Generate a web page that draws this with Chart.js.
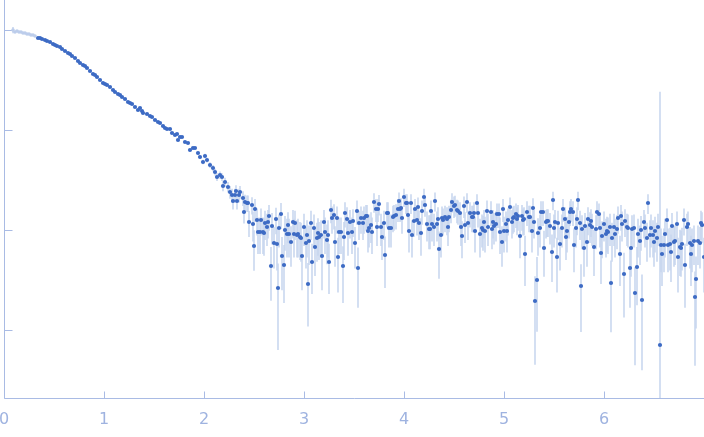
<!DOCTYPE html>
<html>
<head>
<meta charset="utf-8">
<script src="https://cdn.jsdelivr.net/npm/chart.js@4.4.1/dist/chart.umd.min.js"></script>
<style>
  html, body { margin: 0; padding: 0; background: #fff; }
  #wrap { width: 704px; height: 437px; }
</style>
</head>
<body>
<div id="wrap"><canvas id="myChart"></canvas></div>
<script>
// tick positions (s in 1/nm, log10 intensity decades)
const xTicks = [0, 1, 2, 3, 4, 5, 6]
const yDecades = [0, -1, -2, -3]

// points excluded from the fit (light)
const qExcl = [0.09, 0.11, 0.13, 0.15, 0.17, 0.19, 0.21, 0.23, 0.25, 0.27, 0.29, 0.31]
const logIExcl = [0.00, -0.02, -0.01, -0.02, -0.02, -0.03, -0.03, -0.04, -0.04, -0.05, -0.05, -0.06]
const errExcl = [0.07, 0.01, 0.01, 0.01, 0.01, 0.01, 0.01, 0.01, 0.01, 0.01, 0.01, 0.01]

// experimental points: s, log10 I, sigma(I)
const q = [
  0.34, 0.36, 0.38, 0.41, 0.43, 0.46, 0.49, 0.51, 0.53, 0.56,
  0.58, 0.61, 0.64, 0.66, 0.68, 0.71, 0.74, 0.76, 0.79, 0.81,
  0.83, 0.86, 0.89, 0.91, 0.93, 0.96, 0.99, 1.01, 1.03, 1.06,
  1.09, 1.11, 1.14, 1.16, 1.18, 1.21, 1.24, 1.26, 1.28, 1.31,
  1.34, 1.36, 1.38, 1.39, 1.43, 1.46, 1.48, 1.51, 1.54, 1.56,
  1.59, 1.61, 1.63, 1.66, 1.68, 1.71, 1.73, 1.74, 1.76, 1.78,
  1.81, 1.84, 1.86, 1.89, 1.91, 1.94,
  1.96, 1.99, 2.01, 2.03, 2.06, 2.09, 2.11, 2.13, 2.16, 2.18, 2.19, 2.21, 2.24,
  2.26, 2.28, 2.29, 2.31, 2.32, 2.33, 2.35, 2.36, 2.39, 2.40, 2.41, 2.43, 2.44, 2.45, 2.48,
  2.49, 2.50, 2.51, 2.53, 2.54, 2.56, 2.57, 2.59, 2.60, 2.61,
  2.63, 2.64, 2.65, 2.67, 2.68, 2.70, 2.72, 2.73, 2.74, 2.75,
  2.77, 2.78, 2.80, 2.81, 2.83, 2.84, 2.85, 2.87, 2.89, 2.90,
  2.91, 2.93, 2.94, 2.96, 2.97, 2.98, 3.00, 3.02, 3.03, 3.04,
  3.05, 3.07, 3.08, 3.10, 3.11, 3.13, 3.14, 3.15, 3.17, 3.18,
  3.20, 3.21, 3.23, 3.24, 3.25, 3.27, 3.28, 3.30, 3.31, 3.33,
  3.34, 3.35, 3.37, 3.39, 3.40, 3.41, 3.43, 3.44, 3.46, 3.48,
  3.49, 3.51, 3.53, 3.54, 3.55, 3.57, 3.59, 3.60, 3.62, 3.63,
  3.64, 3.65, 3.67, 3.68, 3.70, 3.72, 3.73, 3.74, 3.75, 3.77,
  3.78, 3.80, 3.81, 3.83, 3.84, 3.85, 3.87, 3.89, 3.90, 3.92,
  3.94, 3.95, 3.96, 3.97, 3.98, 4.00, 4.02, 4.03, 4.04, 4.05,
  4.07, 4.08, 4.10, 4.11, 4.13, 4.14, 4.15, 4.17, 4.18, 4.20,
  4.21, 4.23, 4.25, 4.26, 4.27, 4.28, 4.30, 4.31, 4.33, 4.34,
  4.35, 4.37, 4.38, 4.39, 4.41, 4.43, 4.44, 4.45, 4.47, 4.48,
  4.50, 4.51, 4.53, 4.54, 4.56, 4.57, 4.58, 4.60, 4.61, 4.63,
  4.64, 4.66, 4.68, 4.69, 4.70, 4.71, 4.73, 4.74, 4.76, 4.78,
  4.79, 4.80, 4.81, 4.83, 4.84, 4.87, 4.88, 4.89, 4.90, 4.92,
  4.93, 4.95, 4.96, 4.98, 4.99, 5.00, 5.02, 5.03, 5.04, 5.06,
  5.08, 5.09, 5.10, 5.12, 5.13, 5.14, 5.16, 5.18, 5.19, 5.20,
  5.21, 5.23, 5.25, 5.26, 5.28, 5.29, 5.30, 5.31, 5.33, 5.34,
  5.36, 5.37, 5.39, 5.40, 5.42, 5.43, 5.44, 5.46, 5.48, 5.49,
  5.50, 5.51, 5.53, 5.54, 5.56, 5.58, 5.59, 5.61, 5.62, 5.63,
  5.65, 5.66, 5.67, 5.69, 5.70, 5.72, 5.73, 5.74, 5.76, 5.77,
  5.78, 5.80, 5.81, 5.83, 5.84, 5.86, 5.87, 5.88, 5.90, 5.92,
  5.93, 5.95, 5.96, 5.97, 5.98, 6.00, 6.02, 6.03, 6.04, 6.06,
  6.07, 6.08, 6.10, 6.11, 6.13, 6.14, 6.16, 6.17, 6.18, 6.20,
  6.21, 6.23, 6.24, 6.26, 6.27, 6.28, 6.30, 6.31, 6.33, 6.34,
  6.36, 6.37, 6.38, 6.40, 6.41, 6.43, 6.44, 6.46, 6.47, 6.49,
  6.50, 6.51, 6.53, 6.54, 6.56, 6.57, 6.58, 6.60, 6.61, 6.63,
  6.64, 6.66, 6.67, 6.68, 6.70, 6.71, 6.73, 6.74, 6.76, 6.77,
  6.78, 6.80, 6.81, 6.83, 6.84, 6.86, 6.87, 6.88, 6.90, 6.91,
  6.92, 6.94, 6.96, 6.97, 6.98, 7.00
]
const logI = [
  -0.08, -0.08, -0.09, -0.10, -0.11, -0.12, -0.14, -0.15, -0.16, -0.17,
  -0.19, -0.21, -0.23, -0.24, -0.26, -0.28, -0.31, -0.33, -0.35, -0.36,
  -0.38, -0.41, -0.44, -0.45, -0.47, -0.50, -0.53, -0.54, -0.55, -0.57,
  -0.60, -0.62, -0.64, -0.65, -0.67, -0.69, -0.72, -0.73, -0.74, -0.77,
  -0.80, -0.78, -0.81, -0.83, -0.84, -0.86, -0.87, -0.90, -0.92, -0.93,
  -0.96, -0.98, -0.99, -0.99, -1.03, -1.05, -1.04, -1.10, -1.07, -1.07,
  -1.12, -1.13, -1.20, -1.18, -1.18, -1.23,
  -1.27, -1.32, -1.26, -1.30, -1.35, -1.38, -1.42, -1.47, -1.45, -1.47, -1.56, -1.52, -1.57,
  -1.62, -1.65, -1.71, -1.65, -1.61, -1.71, -1.65, -1.62, -1.68, -1.82, -1.72, -1.73, -1.73, -1.92, -1.75,
  -1.94, -2.16, -1.79, -1.90, -2.02, -2.02, -1.90, -2.02, -2.03, -1.93,
  -1.97, -1.92, -1.86, -2.36, -1.96, -2.13, -1.89, -2.14, -2.58, -1.98,
  -1.84, -2.26, -2.35, -2.00, -2.04, -1.95, -2.04, -2.12, -1.92, -2.04,
  -1.93, -2.05, -2.04, -2.07, -2.08, -2.26, -1.97, -2.13, -2.05, -2.54,
  -2.11, -1.93, -2.32, -1.98, -2.17, -2.08, -2.03, -2.07, -2.05, -2.26,
  -1.92, -2.02, -2.10, -2.05, -2.32, -1.80, -1.88, -1.85, -2.12, -1.88,
  -2.27, -2.02, -2.02, -2.36, -2.07, -1.83, -1.89, -2.03, -1.92, -2.02,
  -1.91, -2.13, -1.81, -2.38, -1.93, -1.88, -1.93, -1.88, -1.86, -1.86,
  -2.01, -1.98, -1.95, -2.02, -1.72, -1.79, -1.97, -1.79, -1.74, -1.97,
  -2.07, -1.93, -2.25, -1.83, -1.83, -1.98, -1.98, -1.87, -1.86, -1.85,
  -1.79, -1.71, -1.79, -1.78, -1.88, -1.67, -1.73, -1.73, -1.85, -2.01,
  -1.73, -2.05, -1.91, -1.79, -1.90, -1.77, -1.93, -2.03, -1.81, -1.67,
  -1.75, -1.94, -1.99, -1.99, -1.81, -1.94, -1.97, -1.71, -1.94, -1.89,
  -2.19, -2.05, -1.88, -1.90, -1.87, -1.89, -1.97, -1.87, -1.80, -1.72,
  -1.76, -1.75, -1.80, -1.81, -1.83, -1.97, -2.06, -1.76, -1.95, -1.72,
  -1.93, -1.83, -1.87, -1.87, -1.83, -2.01, -1.73, -1.83, -2.04, -1.98,
  -2.00, -1.92, -2.01, -1.81, -1.97, -1.82, -1.99, -1.92, -1.96, -1.94,
  -1.84, -1.84, -2.02, -2.12, -1.79, -2.01, -1.94, -2.01, -1.90, -1.77,
  -1.92, -1.88, -1.87, -1.84, -1.89, -1.86, -2.06, -1.86, -1.90, -1.89,
  -2.24, -1.82, -1.87, -1.87, -2.01, -1.78, -1.92, -2.71, -2.50, -2.03,
  -1.98, -1.82, -1.82, -2.18, -1.92, -1.91, -1.91, -1.96, -2.22, -1.70,
  -1.98, -1.92, -2.27, -1.93, -2.14, -1.98, -1.79, -1.89, -2.07, -2.01,
  -1.92, -1.82, -1.79, -1.82, -2.15, -1.98, -1.89, -1.70, -1.93, -2.56,
  -1.99, -2.18, -1.96, -2.12, -1.89, -1.95, -1.91, -1.97, -2.17, -1.99,
  -1.82, -1.84, -1.98, -2.23, -2.06, -1.94, -2.04, -2.01, -2.02, -1.97,
  -2.53, -2.08, -1.97, -2.04, -1.99, -1.88, -2.24, -1.86, -1.94, -2.44,
  -1.91, -1.97, -1.98, -2.38, -2.18, -1.99, -1.98, -2.63, -2.37, -2.04,
  -2.11, -2.00, -2.70, -1.92, -1.98, -2.08, -1.73, -2.05, -1.98, -2.05,
  -2.12, -2.01, -2.08, -1.97, -3.15, -2.15, -2.24, -2.15, -2.04, -1.90,
  -2.15, -2.14, -2.22, -1.96, -2.12, -2.11, -1.94, -2.27, -2.17, -2.18,
  -2.14, -1.90, -2.35, -1.97, -1.94, -2.13, -2.24, -2.15, -2.11, -2.67,
  -2.49, -2.11, -2.13, -1.93, -1.95, -2.27
]
const err = [
  0.004, 0.004, 0.004, 0.004, 0.004, 0.004, 0.004, 0.004, 0.004, 0.004,
  0.004, 0.004, 0.004, 0.004, 0.004, 0.004, 0.004, 0.004, 0.004, 0.004,
  0.004, 0.004, 0.004, 0.004, 0.004, 0.004, 0.004, 0.004, 0.004, 0.004,
  0.0025, 0.0025, 0.0025, 0.0025, 0.0025, 0.0025, 0.0025, 0.0025, 0.0025, 0.0025,
  0.0025, 0.0025, 0.0025, 0.0025, 0.0025, 0.0025, 0.0025, 0.0025, 0.0025, 0.0025,
  0.0025, 0.0025, 0.0025, 0.0025, 0.0025, 0.0025, 0.0025, 0.0025, 0.0025, 0.0025,
  0.0025, 0.0025, 0.0025, 0.0025, 0.0025, 0.0025,
  0.0025, 0.0025, 0.0028, 0.0028, 0.003, 0.003, 0.003, 0.003, 0.003, 0.003, 0.0032, 0.0032, 0.0032,
  0.0035, 0.0035, 0.0035, 0.0035, 0.0035, 0.0035, 0.0035, 0.0035, 0.0035, 0.0035, 0.0035, 0.0035, 0.0035, 0.0035, 0.0035,
  0.0038, 0.0030, 0.0042, 0.0038, 0.0038, 0.0038, 0.0038, 0.0038, 0.0038, 0.0038,
  0.0038, 0.0038, 0.0040, 0.0024, 0.0038, 0.0033, 0.0038, 0.0033, 0.0020, 0.0038,
  0.0042, 0.0030, 0.0026, 0.0038, 0.0038, 0.0038, 0.0038, 0.0033, 0.0038, 0.0038,
  0.0038, 0.0036, 0.0038, 0.0035, 0.0035, 0.0030, 0.0038, 0.0033, 0.0036, 0.0018,
  0.0033, 0.0038, 0.0025, 0.0038, 0.0033, 0.0035, 0.0038, 0.0035, 0.0036, 0.0030,
  0.0038, 0.0038, 0.0034, 0.0036, 0.0025, 0.0042, 0.0040, 0.0040, 0.0033, 0.0040,
  0.0030, 0.0038, 0.0038, 0.0025, 0.0035, 0.0042, 0.0040, 0.0038, 0.0038, 0.0038,
  0.0038, 0.0033, 0.0042, 0.0025, 0.0038, 0.0040, 0.0038, 0.0040, 0.0040, 0.0040,
  0.0038, 0.0038, 0.0038, 0.0038, 0.0042, 0.0042, 0.0038, 0.0042, 0.0042, 0.0038,
  0.0035, 0.0038, 0.0030, 0.0042, 0.0042, 0.0038, 0.0038, 0.0040, 0.0040, 0.0040,
  0.0042, 0.0042, 0.0042, 0.0042, 0.0040, 0.0044, 0.0042, 0.0042, 0.0040, 0.0038,
  0.0042, 0.0036, 0.0038, 0.0042, 0.0038, 0.0042, 0.0038, 0.0038, 0.0042, 0.0044,
  0.0042, 0.0038, 0.0038, 0.0038, 0.0042, 0.0038, 0.0038, 0.0042, 0.0038, 0.0040,
  0.0032, 0.0036, 0.0040, 0.0038, 0.0040, 0.0040, 0.0038, 0.0040, 0.0042, 0.0042,
  0.0042, 0.0042, 0.0042, 0.0042, 0.0042, 0.0038, 0.0035, 0.0042, 0.0038, 0.0042,
  0.0038, 0.0042, 0.0040, 0.0040, 0.0042, 0.0038, 0.0042, 0.0042, 0.0038, 0.0038,
  0.0038, 0.0038, 0.0038, 0.0042, 0.0038, 0.0042, 0.0038, 0.0038, 0.0038, 0.0038,
  0.0040, 0.0040, 0.0038, 0.0033, 0.0042, 0.0038, 0.0038, 0.0038, 0.0038, 0.0042,
  0.0038, 0.0040, 0.0040, 0.0040, 0.0040, 0.0040, 0.0035, 0.0040, 0.0038, 0.0040,
  0.0030, 0.0042, 0.0040, 0.0040, 0.0038, 0.0042, 0.0038, 0.0015, 0.0022, 0.0038,
  0.0038, 0.0042, 0.0042, 0.0032, 0.0038, 0.0038, 0.0038, 0.0038, 0.0030, 0.0042,
  0.0038, 0.0038, 0.0030, 0.0038, 0.0033, 0.0038, 0.0042, 0.0040, 0.0035, 0.0038,
  0.0038, 0.0042, 0.0042, 0.0042, 0.0033, 0.0038, 0.0040, 0.0042, 0.0038, 0.0018,
  0.0038, 0.0032, 0.0038, 0.0033, 0.0040, 0.0038, 0.0038, 0.0038, 0.0033, 0.0038,
  0.0042, 0.0040, 0.0038, 0.0030, 0.0035, 0.0038, 0.0038, 0.0038, 0.0038, 0.0038,
  0.0020, 0.0035, 0.0038, 0.0038, 0.0038, 0.0040, 0.0030, 0.0040, 0.0038, 0.0023,
  0.0038, 0.0038, 0.0038, 0.0025, 0.0032, 0.0038, 0.0038, 0.0019, 0.0025, 0.0038,
  0.0033, 0.0038, 0.0016, 0.0038, 0.0038, 0.0035, 0.0042, 0.0036, 0.0038, 0.0036,
  0.0033, 0.0038, 0.0035, 0.0038, 0.24, 0.0033, 0.0030, 0.0033, 0.0038, 0.0038,
  0.0033, 0.0033, 0.0030, 0.0038, 0.0033, 0.0033, 0.0038, 0.0030, 0.0033, 0.0032,
  0.0033, 0.0038, 0.0028, 0.0038, 0.0038, 0.0033, 0.0030, 0.0033, 0.0033, 0.0017,
  0.0022, 0.0033, 0.0033, 0.0038, 0.0038, 0.0030
]

const toPoints = (xs, ys, es) => xs.map((x, i) => ({ x: x, y: ys[i], err: es[i] }))

const axisColor = '#a9bbe4'
const labelColor = '#9fb3e0'

// error bars: I +/- sigma shown on the log10 axis
const errorBars = {
  id: 'errorBars',
  beforeDatasetsDraw(chart) {
    const { ctx, chartArea, scales } = chart
    const xs = scales.x, ys = scales.y
    ctx.save()
    ctx.beginPath()
    ctx.rect(chartArea.left, chartArea.top, chartArea.width, chartArea.height)
    ctx.clip()
    ctx.lineWidth = 1.6
    chart.data.datasets.forEach(ds => {
      ctx.strokeStyle = ds.barColor
      ds.data.forEach(p => {
        const I = Math.pow(10, p.y)
        const hi = Math.log10(I + p.err)
        const lo = I - p.err > 0 ? Math.log10(I - p.err) : ys.min
        const px = xs.getPixelForValue(p.x)
        ctx.beginPath()
        ctx.moveTo(px, ys.getPixelForValue(hi))
        ctx.lineTo(px, ys.getPixelForValue(lo))
        ctx.stroke()
      })
    })
    ctx.restore()
  }
}

// axis lines with inward tick marks
const axes = {
  id: 'axes',
  beforeDatasetsDraw(chart) {
    const { ctx, chartArea, scales } = chart
    const left = Math.round(chartArea.left) + 0.5
    const bottom = Math.round(chartArea.bottom) - 0.5
    ctx.save()
    ctx.strokeStyle = axisColor
    ctx.lineWidth = 1
    ctx.beginPath()
    ctx.moveTo(left, chartArea.top)
    ctx.lineTo(left, bottom)
    ctx.lineTo(chartArea.right, bottom)
    xTicks.forEach(v => {
      const px = Math.round(scales.x.getPixelForValue(v)) + 0.5
      ctx.moveTo(px, bottom)
      ctx.lineTo(px, bottom - 7)
    })
    yDecades.forEach(v => {
      const py = Math.round(scales.y.getPixelForValue(v)) + 0.5
      ctx.moveTo(left, py)
      ctx.lineTo(left + 8, py)
    })
    ctx.stroke()
    ctx.restore()
  }
}

new Chart(document.getElementById('myChart'), {
  type: 'scatter',
  data: {
    datasets: [{
      label: 'excluded',
      data: toPoints(qExcl, logIExcl, errExcl),
      backgroundColor: '#bccdeb',
      borderWidth: 0,
      pointRadius: 1.8,
      barColor: '#c8d6ef'
    }, {
      label: 'experimental',
      data: toPoints(q, logI, err),
      backgroundColor: '#3d6bc4',
      borderWidth: 0,
      pointRadius: 2.1,
      barColor: '#c9d7ef'
    }]
  },
  options: {
    responsive: true,
    maintainAspectRatio: false,
    animation: false,
    layout: { autoPadding: false, padding: { left: 4, right: 0, top: 0, bottom: 0 } },
    plugins: { legend: { display: false }, tooltip: { enabled: false } },
    scales: {
      x: {
        type: 'linear',
        min: 0,
        max: 7,
        grid: { display: false, drawTicks: false },
        border: { display: false },
        afterBuildTicks: scale => { scale.ticks = xTicks.map(v => ({ value: v })) },
        afterFit: scale => {
          scale.height = 38
          scale.paddingLeft = 0
          scale.paddingRight = 0
        },
        ticks: {
          autoSkip: false,
          maxRotation: 0,
          padding: 11,
          color: labelColor,
          font: { family: 'DejaVu Sans', size: 16 }
        }
      },
      y: {
        type: 'linear',
        min: -3.69,
        max: 0.30,
        display: false
      }
    }
  },
  plugins: [errorBars, axes]
})
</script>
</body>
</html>
